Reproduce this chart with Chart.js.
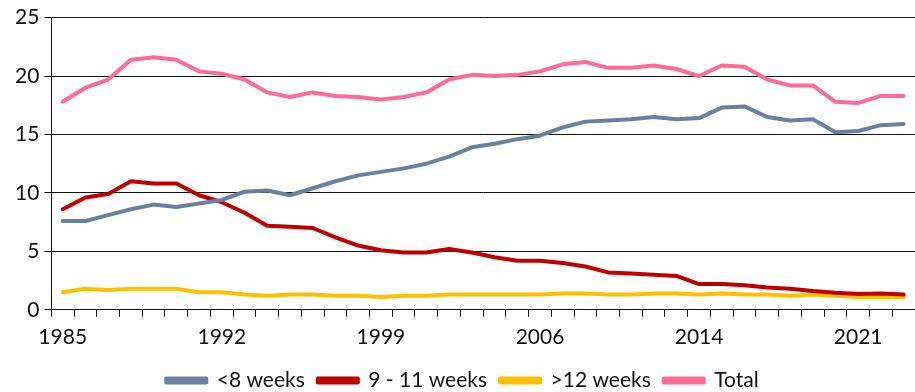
<!DOCTYPE html>
<html>
<head>
<meta charset="utf-8">
<script src="https://cdn.jsdelivr.net/npm/chart.js@4.4.1/dist/chart.umd.min.js"></script>
<style>
    html, body { margin: 0; padding: 0; background: #fff; }
    #wrap { width: 915px; height: 392px; }
</style>
</head>
<body>
<div id="wrap"><canvas id="chart"></canvas></div>
<script>
// years on the category axis (one year is absent between 2006 and 2014)
const years = [
    1985, 1986, 1987, 1988, 1989, 1990, 1991, 1992, 1993, 1994, 1995,
    1996, 1997, 1998, 1999, 2000, 2001, 2002, 2003, 2004, 2005, 2006,
    2008, 2009, 2010, 2011, 2012, 2013, 2014, 2015, 2016, 2017, 2018,
    2019, 2020, 2021, 2022, 2023
];

const under8Weeks = [
    7.6, 7.6, 8.1, 8.6, 9.0, 8.8, 9.1, 9.4, 10.1, 10.2,
    9.8, 10.4, 11.0, 11.5, 11.8, 12.1, 12.5, 13.1, 13.9, 14.2,
    14.6, 14.9, 15.6, 16.1, 16.2, 16.3, 16.5, 16.3, 16.4, 17.3,
    17.4, 16.5, 16.2, 16.3, 15.2, 15.3, 15.8, 15.9
];

const weeks9To11 = [
    8.6, 9.6, 9.9, 11.0, 10.8, 10.8, 9.8, 9.2, 8.3, 7.2,
    7.1, 7.0, 6.2, 5.5, 5.1, 4.9, 4.9, 5.2, 4.9, 4.5,
    4.2, 4.2, 4.0, 3.7, 3.2, 3.1, 3.0, 2.9, 2.2, 2.2,
    2.1, 1.9, 1.8, 1.6, 1.45, 1.35, 1.4, 1.3
];

const over12Weeks = [
    1.5, 1.8, 1.7, 1.8, 1.8, 1.8, 1.5, 1.5, 1.3, 1.2,
    1.3, 1.3, 1.2, 1.2, 1.1, 1.2, 1.2, 1.3, 1.3, 1.3,
    1.3, 1.3, 1.4, 1.4, 1.3, 1.3, 1.4, 1.4, 1.3, 1.4,
    1.3, 1.3, 1.2, 1.3, 1.2, 1.1, 1.1, 1.1
];

const total = [
    17.8, 19.0, 19.7, 21.4, 21.6, 21.4, 20.4, 20.2, 19.7, 18.6,
    18.2, 18.6, 18.3, 18.2, 18.0, 18.2, 18.6, 19.7, 20.1, 20.0,
    20.1, 20.4, 21.0, 21.2, 20.7, 20.7, 20.9, 20.6, 20.0, 20.9,
    20.8, 19.7, 19.2, 19.2, 17.8, 17.7, 18.3, 18.3
];

const yTicks = [0, 5, 10, 15, 20, 25];

const font = { family: 'Lato', size: 21 };
const ink = '#111';

function series(label, data, color) {
    return {
        label: label,
        data: data,
        borderColor: color,
        backgroundColor: color,
        borderWidth: 4,
        pointRadius: 0,
        tension: 0,
        borderJoinStyle: 'round',
        borderCapStyle: 'round'
    };
}

new Chart(
    document.getElementById('chart'),
    {
        type: 'line',
        data: {
            labels: years.map(String),
            datasets: [
                series('<8 weeks', under8Weeks, '#6A80A0'),
                series('9 - 11 weeks', weeks9To11, '#C00000'),
                series('>12 weeks', over12Weeks, '#FFC000'),
                series('Total', total, '#FF6B98')
            ]
        },
        options: {
            responsive: true,
            maintainAspectRatio: false,
            animation: false,
            layout: {
                // legend sits lower than Chart.js puts it by default
                padding: { top: 14, left: 10, right: 0, bottom: -9 }
            },
            plugins: {
                legend: {
                    position: 'bottom',
                    labels: {
                        boxWidth: 40,
                        boxHeight: 4,
                        padding: 13,
                        color: ink,
                        font: font
                    }
                },
                tooltip: { enabled: false }
            },
            scales: {
                x: {
                    offset: true,
                    afterFit: (axis) => {
                        axis.height -= 1;
                    },
                    grid: {
                        offset: true,
                        drawOnChartArea: false,
                        drawTicks: true,
                        tickLength: 7,
                        color: ink
                    },
                    border: { color: ink, width: 1 },
                    ticks: {
                        autoSkip: false,
                        maxRotation: 0,
                        padding: 8,
                        color: ink,
                        font: font,
                        callback: (value, index) => {
                            return index % 7 === 0 ? years[index] : '';
                        }
                    }
                },
                y: {
                    min: yTicks[0],
                    max: yTicks[yTicks.length - 1],
                    afterBuildTicks: (axis) => {
                        axis.ticks = yTicks.map((value) => ({ value: value }));
                    },
                    grid: {
                        color: ink,
                        lineWidth: 1,
                        tickLength: 7
                    },
                    border: { color: ink, width: 1 },
                    ticks: {
                        padding: 5,
                        color: ink,
                        font: font
                    }
                }
            }
        }
    }
);
</script>
</body>
</html>
